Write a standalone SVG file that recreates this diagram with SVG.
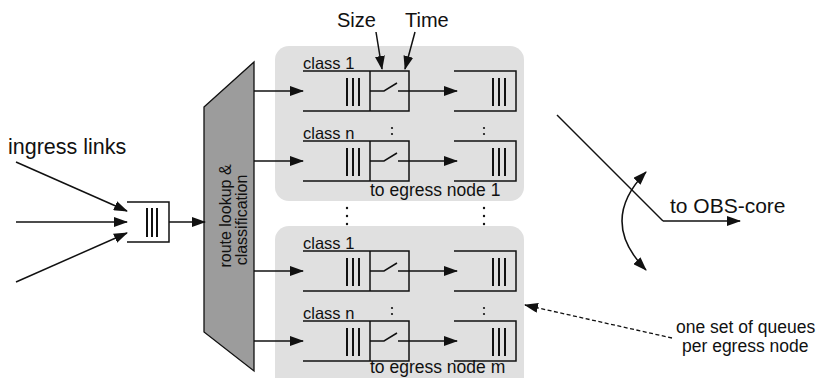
<svg xmlns="http://www.w3.org/2000/svg" xmlns:xlink="http://www.w3.org/1999/xlink" width="818" height="378" viewBox="0 0 818 378">
  <style>
    .ln { fill: none; stroke: #111; stroke-width: 1.5; }
    .bar { fill: none; stroke: #111; stroke-width: 2; }
    .arr { fill: none; stroke: #111; stroke-width: 1.5; marker-end: url(#head); }
    .dash { fill: none; stroke: #111; stroke-width: 1.3; stroke-dasharray: 4 2.5; marker-end: url(#head); }
    .txt { font-family: "Liberation Sans", Arial, Helvetica, sans-serif; fill: #111; }
    .cls { font-size: 16.5px; }
    .region { fill: #e0e0e0; }
    .dot { fill: #111; }
  </style>
  <defs>
    <marker id="head" markerUnits="userSpaceOnUse" markerWidth="14" markerHeight="10" refX="13" refY="5" orient="auto">
      <path d="M0,0 L14,5 L0,10 z" fill="#111"/>
    </marker>
    <marker id="head2" markerUnits="userSpaceOnUse" markerWidth="14" markerHeight="10" refX="13" refY="5" orient="auto-start-reverse">
      <path d="M0,0 L14,5 L0,10 z" fill="#111"/>
    </marker>
    <!-- one class row: class queue + burst switch + egress queue -->
    <g id="row">
      <path class="ln" d="M0,0 H106 V40 H0 M67,0 V40"/>
      <path class="bar" d="M44,7 V35 M50,7 V35 M56,7 V35"/>
      <path class="ln" d="M67,20 H81 L94,12"/>
      <path class="arr" d="M95,20 H154"/>
      <path class="ln" d="M151,0 H213 V40 H151"/>
      <path class="bar" d="M190,7 V35 M196,7 V35 M202,7 V35"/>
      <path class="arr" d="M-49,20 H0"/>
    </g>
  </defs>

  <!-- queue sets -->
  <rect class="region" x="275" y="46" width="249" height="155" rx="14"/>
  <rect class="region" x="275" y="226" width="249" height="170" rx="14"/>

  <!-- ingress -->
  <g id="ingress">
    <text class="txt" x="8" y="154" font-size="21.5">ingress links</text>
    <path class="ln" d="M127,202 H169 V242 H127"/>
    <path class="bar" d="M147,208 V237 M152,208 V237 M157,208 V237"/>
  </g>

  <!-- route lookup & classification -->
  <g id="classifier">
    <polygon points="204,107 254,62 254,371 204,332" fill="#9c9c9c" stroke="#111" stroke-width="1.3"/>
    <text class="txt" font-size="16" text-anchor="middle" transform="translate(231,216) rotate(-90)">route lookup &amp;</text>
    <text class="txt" font-size="16" text-anchor="middle" transform="translate(247,220) rotate(-90)">classification</text>
  </g>

  <!-- egress node 1 -->
  <g id="egress-1">
    <use xlink:href="#row" transform="translate(303,71)"/>
    <use xlink:href="#row" transform="translate(303,141)"/>
    <text class="txt cls" x="303" y="69">class 1</text>
    <text class="txt cls" x="303" y="139">class n</text>
    <circle class="dot" cx="392" cy="128" r="1.1"/>
    <circle class="dot" cx="392" cy="134" r="1.1"/>
    <circle class="dot" cx="484" cy="128" r="1.1"/>
    <circle class="dot" cx="484" cy="134" r="1.1"/>
    <text class="txt" x="370" y="196" font-size="17.5">to egress node 1</text>
  </g>

  <!-- ellipsis between sets -->
  <g id="ellipsis">
    <circle class="dot" cx="347" cy="208" r="1.2"/>
    <circle class="dot" cx="347" cy="216" r="1.2"/>
    <circle class="dot" cx="347" cy="224" r="1.2"/>
    <circle class="dot" cx="484" cy="208" r="1.2"/>
    <circle class="dot" cx="484" cy="216" r="1.2"/>
    <circle class="dot" cx="484" cy="224" r="1.2"/>
  </g>

  <!-- egress node m -->
  <g id="egress-m">
    <use xlink:href="#row" transform="translate(303,251)"/>
    <use xlink:href="#row" transform="translate(303,321)"/>
    <text class="txt cls" x="303" y="249">class 1</text>
    <text class="txt cls" x="303" y="319">class n</text>
    <circle class="dot" cx="392" cy="308" r="1.1"/>
    <circle class="dot" cx="392" cy="314" r="1.1"/>
    <circle class="dot" cx="484" cy="308" r="1.1"/>
    <circle class="dot" cx="484" cy="314" r="1.1"/>
    <text class="txt" x="370" y="373" font-size="17.5">to egress node m</text>
  </g>

  <!-- thresholds -->
  <g id="thresholds">
    <text class="txt" x="337" y="27" font-size="20">Size</text>
    <text class="txt" x="405" y="27" font-size="20">Time</text>
  </g>

  <!-- OBS core output -->
  <g id="obs-core">
    <text class="txt" x="670" y="213" font-size="21">to OBS-core</text>
  </g>

  <!-- annotation -->
  <g id="note">
    <text class="txt" x="676" y="333" font-size="17.5">one set of queues</text>
    <text class="txt" x="682" y="352" font-size="17.5">per egress node</text>
  </g>

  <!-- connectors -->
  <g id="connectors">
    <path class="arr" d="M16,162 L127,211"/>
    <path class="arr" d="M16,222 H127"/>
    <path class="arr" d="M16,282 L127,233"/>
    <path class="arr" d="M169,222 H205"/>
    <path class="arr" d="M376,32 L382,69"/>
    <path class="arr" d="M415,32 L405,69"/>
    <path class="ln" d="M557,115 L663,221"/>
    <path class="arr" d="M663,221 H740"/>
    <path d="M646,270 Q598,221 646,172" fill="none" stroke="#111" stroke-width="1.5" marker-start="url(#head2)" marker-end="url(#head2)"/>
    <path class="dash" d="M672,338 L525,305"/>
  </g>
</svg>
